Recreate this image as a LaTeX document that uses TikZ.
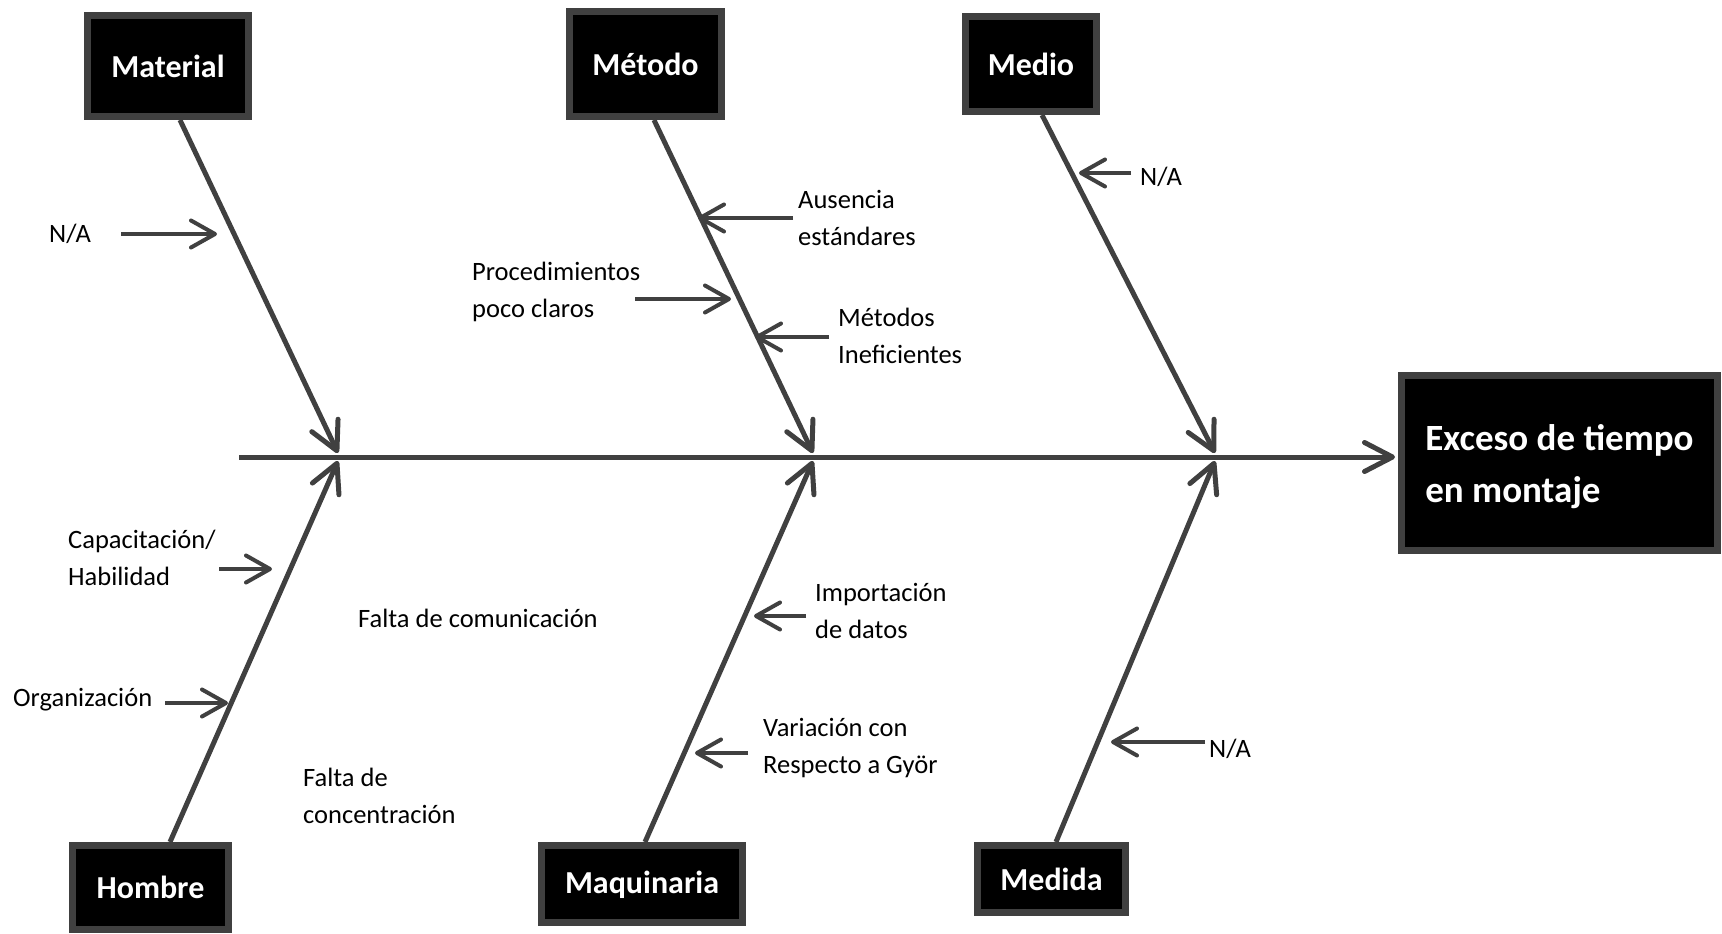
\documentclass[tikz,border=0pt]{standalone}
\usepackage{fontspec}
\setmainfont{Carlito}
\usetikzlibrary{arrows.meta}
\definecolor{ink}{HTML}{404040}
\begin{document}
\begin{tikzpicture}[x=1pt,y=-1pt,
  cat/.style={draw=ink, fill=black, line width=7pt, text=white,
    font=\fontsize{32}{38}\selectfont\bfseries, inner sep=0pt},
  lbl/.style={anchor=west, align=left, inner sep=0pt,
    font=\fontsize{26.5}{36.5}\selectfont},
  bone/.style={draw=ink, line width=5pt,
    -{Straight Barb[length=28pt,width=29pt,round]}},
  cause/.style={draw=ink, line width=4pt,
    -{Straight Barb[length=24pt,width=27pt,round]}},
]
\useasboundingbox (0,0) rectangle (1722,934);

% category boxes
\node[cat, minimum width=161pt, minimum height=101pt] (material) at (168,66) {Material};
\node[cat, minimum width=152pt, minimum height=105pt] (metodo) at (645.5,64) {Método};
\node[cat, minimum width=131pt, minimum height=95pt] (medio) at (1031,64) {Medio};
\node[cat, minimum width=156pt, minimum height=84pt] (hombre) at (150.5,887.5) {Hombre};
\node[cat, minimum width=201pt, minimum height=77pt, text depth=3pt] (maquinaria) at (642,884) {Maquinaria};
\node[cat, minimum width=148pt, minimum height=67pt] (medida) at (1051.5,879) {Medida};

% effect box
\node[cat, minimum width=316pt, minimum height=175pt, align=left, text depth=0pt,
  font=\fontsize{37}{52}\selectfont\bfseries] (effect) at (1559.5,463)
  {Exceso de tiempo\\en montaje};

% spine and junctions
\coordinate (spine0) at (239,457);
\coordinate (j1) at (338,457);
\coordinate (j2) at (813,457);
\coordinate (j3) at (1215,457);
\draw[bone, shorten >=3pt] (spine0) -- (effect.west |- spine0);

% bones
\draw[bone] ([xshift=12pt]material.south) -- ([yshift=4pt]j1);
\draw[bone] ([xshift=8.5pt]metodo.south) -- ([yshift=4pt]j2);
\draw[bone] ([xshift=11pt]medio.south) -- ([yshift=4pt]j3);
\draw[bone] ([xshift=19.5pt]hombre.north) -- ([yshift=-4pt]j1);
\draw[bone] ([xshift=3pt]maquinaria.north) -- ([yshift=-4pt]j2);
\draw[bone] ([xshift=4.5pt]medida.north) -- ([yshift=-4pt]j3);

% causes
\node[lbl] (na1) at (49,234) {N/A};
\coordinate (a1s) at (121,234); \coordinate (a1e) at (217,234);
\draw[cause] (a1s) -- (a1e);

\node[lbl] (ausencia) at (798,218) {Ausencia\\estándares};
\coordinate (a2s) at (793,218); \coordinate (a2e) at (698,218);
\draw[cause] (a2s) -- (a2e);

\node[lbl] (proc) at (472,292) {Procedimientos\\poco claros};
\coordinate (a3s) at (635,299); \coordinate (a3e) at (731,299);
\draw[cause] (a3s) -- (a3e);

\node[lbl] (metin) at (838,336) {Métodos\\Ineficientes};
\coordinate (a4s) at (829,337); \coordinate (a4e) at (755,337);
\draw[cause] (a4s) -- (a4e);

\node[lbl] (na2) at (1140,177) {N/A};
\coordinate (a5s) at (1131,173); \coordinate (a5e) at (1079,173);
\draw[cause] (a5s) -- (a5e);

\node[lbl] (capac) at (68,558) {Capacitación/\\Habilidad};
\coordinate (a6s) at (219,569); \coordinate (a6e) at (272,569);
\draw[cause] (a6s) -- (a6e);

\node[lbl] (organ) at (13,700) {Organización};
\coordinate (a7s) at (165,703); \coordinate (a7e) at (228,703);
\draw[cause] (a7s) -- (a7e);

\node[lbl] (comun) at (358,618) {Falta de comunicación};
\node[lbl] (concen) at (303,796) {Falta de\\concentración};

\node[lbl] (import) at (815,611) {Importación\\de datos};
\coordinate (a8s) at (806,616); \coordinate (a8e) at (754,616);
\draw[cause] (a8s) -- (a8e);

\node[lbl] (variac) at (763,748) {Variación con\\Respecto a Györ};
\coordinate (a9s) at (748,753); \coordinate (a9e) at (695,753);
\draw[cause] (a9s) -- (a9e);

\node[lbl] (na3) at (1209,749) {N/A};
\coordinate (a10s) at (1205,742); \coordinate (a10e) at (1111,742);
\draw[cause] (a10s) -- (a10e);
\end{tikzpicture}
\end{document}
